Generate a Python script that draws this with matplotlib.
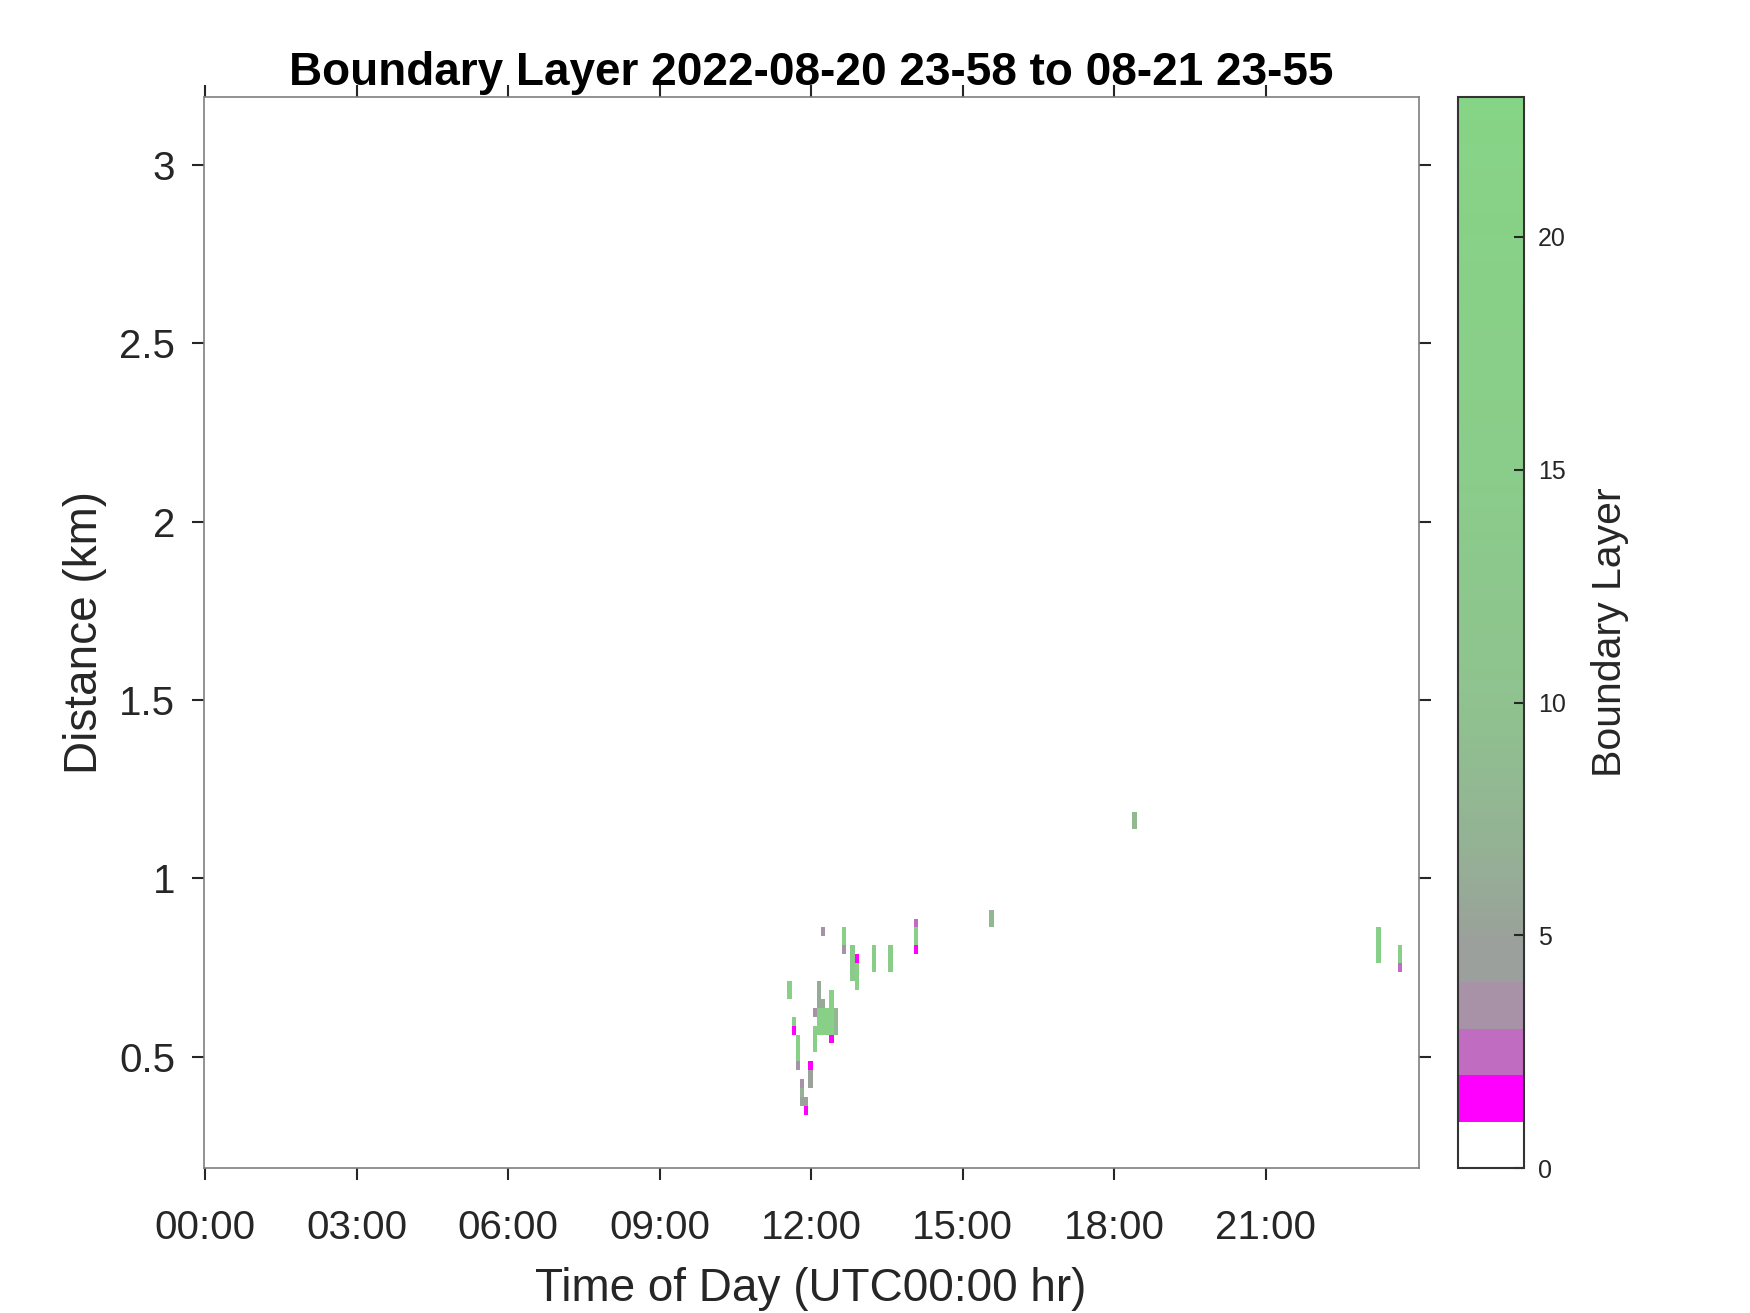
import numpy as np
import pandas as pd
import matplotlib
matplotlib.use('Agg')
import matplotlib.pyplot as plt
from matplotlib.colors import ListedColormap, Normalize

plt.rcParams['font.family'] = ['Liberation Sans', 'DejaVu Sans']

# boundary layer detections: profile start time, lowest / highest gate centre (km), value
profile_time = ['11:31:30', '11:36:30', '11:36:30', '11:41:30', '11:41:30',
                '11:46:30', '11:46:30', '11:46:30', '11:51:30', '11:51:30',
                '11:56:30', '11:56:30', '12:01:30', '12:01:30', '12:06:30',
                '12:06:30', '12:11:30', '12:11:30', '12:11:30', '12:16:30',
                '12:21:30', '12:21:30', '12:21:30', '12:26:30', '12:36:30',
                '12:36:30', '12:46:30', '12:51:30', '12:51:30', '13:11:30',
                '13:31:30', '14:01:30', '14:01:30', '14:01:30', '15:31:30',
                '18:21:30', '23:11:30', '23:36:30', '23:36:30']
gate_lo = [0.675, 0.600, 0.575, 0.500, 0.475,
           0.425, 0.400, 0.375, 0.375, 0.350,
           0.475, 0.425, 0.625, 0.525, 0.650,
           0.575, 0.850, 0.650, 0.575, 0.575,
           0.650, 0.575, 0.550, 0.575, 0.825,
           0.800, 0.725, 0.775, 0.700, 0.750,
           0.750, 0.875, 0.825, 0.800, 0.875,
           1.150, 0.775, 0.775, 0.750]
gate_hi = [0.700, 0.600, 0.575, 0.550, 0.475,
           0.425, 0.400, 0.375, 0.375, 0.350,
           0.475, 0.450, 0.625, 0.575, 0.700,
           0.625, 0.850, 0.650, 0.625, 0.625,
           0.675, 0.625, 0.550, 0.625, 0.850,
           0.800, 0.800, 0.775, 0.750, 0.800,
           0.800, 0.875, 0.850, 0.800, 0.900,
           1.175, 0.850, 0.800, 0.750]
bl_value = [19, 19, 1.5, 19, 3.5,
            3.5, 7, 5, 5, 1.5,
            1.5, 5, 3.5, 18, 6,
            18, 3.5, 6, 18, 18,
            18, 18, 1.5, 8, 18,
            3.5, 14, 1.5, 17, 16,
            16, 2.6, 17, 1.5, 8,
            8, 18, 17, 2.6]

xtick_hours = [0, 3, 6, 9, 12, 15, 18, 21]
xtick_labels = ['00:00', '03:00', '06:00', '09:00', '12:00', '15:00', '18:00', '21:00']
ytick_km = [0.5, 1, 1.5, 2, 2.5, 3]
ytick_labels = ['0.5', '1', '1.5', '2', '2.5', '3']
cbar_ticks = [0, 5, 10, 15, 20]

# grid: 5-min profiles, 25 m gates
gate_centres = np.arange(0.2, 3.18, 0.025)
gate_edges = np.append(gate_centres - 0.0125, gate_centres[-1] + 0.0125)
prof_start = 1.5 + 5 * np.arange(288)          # minutes of day
time_edges = np.append(prof_start, prof_start[-1] + 5) / 60.0

grid = np.full((len(gate_centres), len(prof_start)), np.nan)
t_min = pd.to_timedelta(profile_time).total_seconds() / 60.0
for t, lo, hi, v in zip(t_min, gate_lo, gate_hi, bl_value):
    col = int(round((t - 1.5) / 5))
    r0 = int(round((lo - 0.2) / 0.025))
    r1 = int(round((hi - 0.2) / 0.025))
    grid[r0:r1 + 1, col] = v

# colormap: white, magenta, purple, mauve, grey, then grey-green -> green
n = 230
vals = (np.arange(n) + 0.5) * 23 / n
g_nodes = [5, 7, 10, 15, 23]
g_r = [154, 148, 143, 138, 134]
g_g = [162, 178, 194, 204, 212]
colors = []
for v in vals:
    if v < 1:
        colors.append((1, 1, 1))
    elif v < 2:
        colors.append((1, 0, 1))
    elif v < 3:
        colors.append((192 / 255, 108 / 255, 192 / 255))
    elif v < 4:
        colors.append((168 / 255, 146 / 255, 168 / 255))
    elif v < 5:
        colors.append((156 / 255, 160 / 255, 156 / 255))
    else:
        r = np.interp(v, g_nodes, g_r) / 255
        g = np.interp(v, g_nodes, g_g) / 255
        colors.append((r, g, r))
cmap = ListedColormap(colors)
norm = Normalize(0, 23)

fig = plt.figure(figsize=(17.5, 13.13), dpi=100)
ax = fig.add_axes([0.1164, 0.1102, 0.6942, 0.8159])
cax = fig.add_axes([0.8333, 0.1102, 0.0377, 0.8159])

mesh = ax.pcolormesh(time_edges, gate_edges, np.ma.masked_invalid(grid),
                     cmap=cmap, norm=norm, shading='flat', antialiased=False)

ax.set_xlim(-2 / 60, 24.025)
ax.set_ylim(0.1875, 3.19)
ax.set_xticks(xtick_hours)
ax.set_xticklabels(xtick_labels)
ax.set_yticks(ytick_km)
ax.set_yticklabels(ytick_labels)
ax.tick_params(direction='out', length=8.5, width=1.5, color='#262626',
               top=True, right=True, labelsize=29, labelcolor='#262626')
ax.tick_params(axis='x', pad=21)
ax.tick_params(axis='y', pad=12)
for s in ax.spines.values():
    s.set_color('#7f7f7f')
    s.set_linewidth(1.2)

ax.set_xlabel('Time of Day (UTC00:00 hr)', fontsize=33, color='#262626', labelpad=14)
ax.set_ylabel('Distance (km)', fontsize=33, color='#262626', labelpad=9)
ax.set_title('Boundary Layer 2022-08-20 23-58 to 08-21 23-55',
             fontsize=33, fontweight='bold', pad=9)

cb = fig.colorbar(mesh, cax=cax, ticks=cbar_ticks)
cax.tick_params(direction='in', length=7, width=1.5, color='#262626',
                labelsize=18, pad=10, labelcolor='#262626')
cb.outline.set_edgecolor('#333333')
cb.outline.set_linewidth(1.5)
cb.set_label('Boundary Layer', fontsize=29.5, color='#262626', labelpad=18)

fig.savefig('out.png', dpi=100)
